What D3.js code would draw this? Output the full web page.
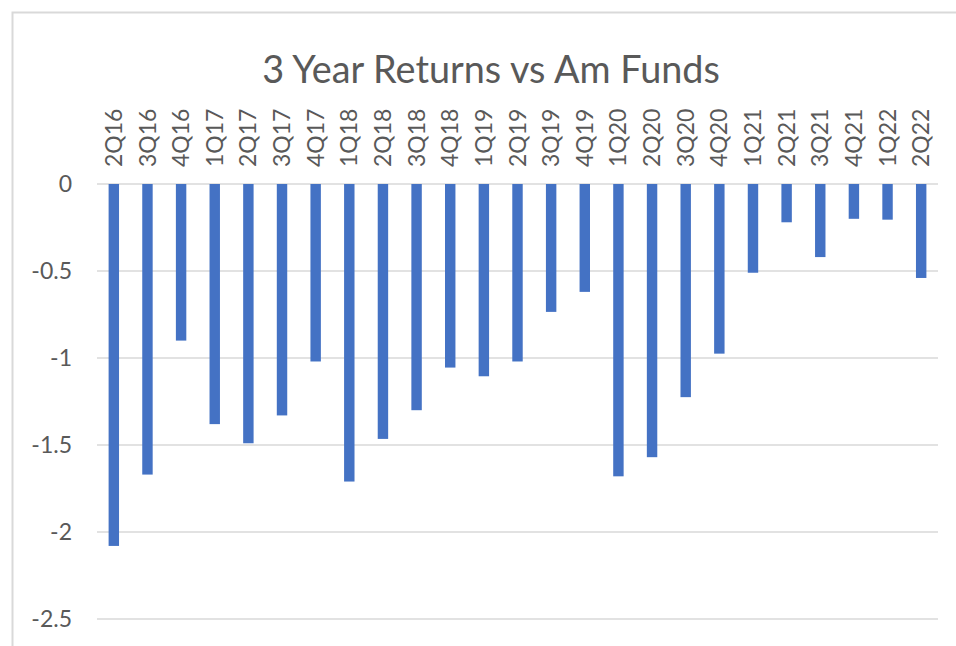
<!DOCTYPE html>
<html>
<head>
<meta charset="utf-8">
<script src="https://cdn.jsdelivr.net/npm/d3@7/dist/d3.min.js"></script>
<style>
  html, body { margin: 0; padding: 0; background: #fff; }
  svg { display: block; }
</style>
</head>
<body>
<div id="chart"></div>
<script>
// 3 Year Returns vs Am Funds — quarterly bars, all negative, labels along the top
const quarters = ["2Q16", "3Q16", "4Q16", "1Q17", "2Q17", "3Q17", "4Q17", "1Q18", "2Q18", "3Q18",
  "4Q18", "1Q19", "2Q19", "3Q19", "4Q19", "1Q20", "2Q20", "3Q20", "4Q20", "1Q21",
  "2Q21", "3Q21", "4Q21", "1Q22", "2Q22"];
const returns = [-2.08, -1.67, -0.90, -1.38, -1.49, -1.33, -1.02, -1.71, -1.465, -1.30,
  -1.055, -1.105, -1.02, -0.735, -0.62, -1.68, -1.57, -1.225, -0.975, -0.51,
  -0.22, -0.42, -0.20, -0.205, -0.54];
const yTicks = [0, -0.5, -1, -1.5, -2, -2.5];
const title = "3 Year Returns vs Am Funds";

const W = 956, H = 646;
const FONT = "Lato, 'Open Sans', sans-serif";
const INK = "#595959", GRID = "#d9d9d9", BLUE = "#4472c4";
const ML = 97, MR = 18, TOP = 184, BOT = 619;

const svg = d3.select("#chart").append("svg")
  .attr("width", W).attr("height", H).attr("viewBox", `0 0 ${W} ${H}`);

// chart frame (only top and left edges are inside the crop)
svg.append("path")
  .attr("d", `M 12.5 ${H} L 12.5 12.5 L ${W} 12.5`)
  .attr("fill", "none").attr("stroke", "#d9d9d9").attr("stroke-width", 2);

const x = d3.scaleBand().domain(quarters).range([ML, W - MR]).paddingInner(0.69).paddingOuter(0.345);
const y = d3.scaleLinear().domain([0, -2.5]).range([TOP, BOT]);

// gridlines + y labels
yTicks.forEach(v => {
  svg.append("line")
    .attr("x1", ML).attr("x2", W - MR).attr("y1", y(v)).attr("y2", y(v))
    .attr("stroke", GRID).attr("stroke-width", 1.6);
  svg.append("text")
    .attr("x", 72).attr("y", y(v)).attr("text-anchor", "end").attr("dy", "0.35em")
    .attr("style", `font:23px ${FONT};fill:${INK}`)
    .text(v);
});

// bars
svg.selectAll("rect.bar").data(quarters).join("rect")
  .attr("class", "bar")
  .attr("x", d => x(d)).attr("width", x.bandwidth())
  .attr("y", y(0)).attr("height", (d, i) => y(returns[i]) - y(0))
  .attr("fill", BLUE);

// category labels, rotated, sitting above the zero line
svg.selectAll("text.cat").data(quarters).join("text")
  .attr("class", "cat")
  .attr("transform", d => `translate(${x(d) + x.bandwidth() / 2},167) rotate(-90)`)
  .attr("dy", "0.35em")
  .attr("style", `font:23px ${FONT};fill:${INK}`)
  .text(d => d);

// title, sized to the reference width
const t = svg.append("text")
  .attr("x", 491).attr("y", 83).attr("text-anchor", "middle")
  .attr("style", `font:37px ${FONT};fill:${INK}`)
  .text(title);
const tw = t.node().getComputedTextLength();
if (tw > 0) t.style("font-size", (37 * 458 / tw).toFixed(1) + "px");
</script>
</body>
</html>
